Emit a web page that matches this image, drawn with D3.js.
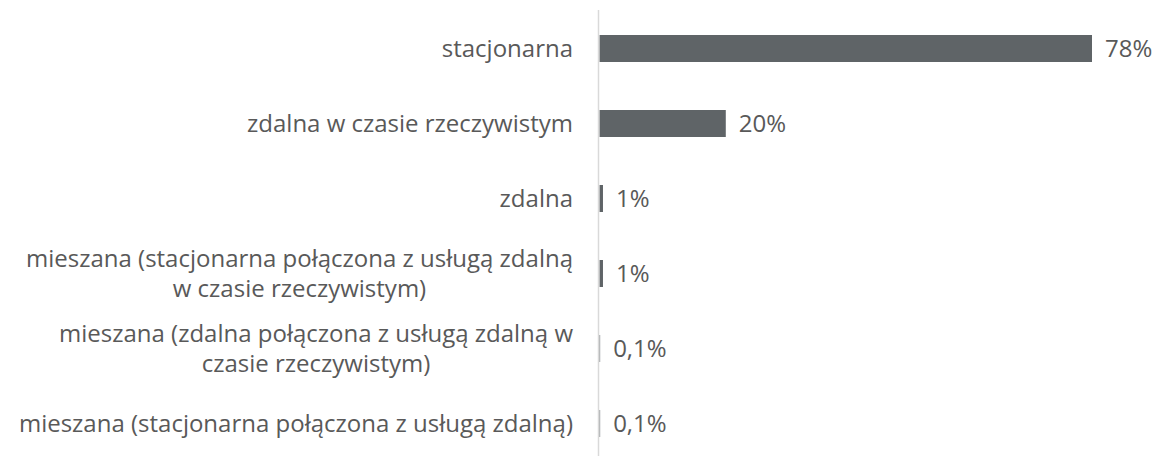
<!DOCTYPE html>
<html><head><meta charset="utf-8">
<script src="https://cdn.jsdelivr.net/npm/d3@7"></script>
<style>html,body{margin:0;padding:0;background:#fff;}svg{display:block;}</style>
</head><body>
<svg id="chart" width="1158" height="456"></svg>
<script>
const categories = [
  "stacjonarna",
  "zdalna w czasie rzeczywistym",
  "zdalna",
  "mieszana (stacjonarna połączona z usługą zdalną\nw czasie rzeczywistym)",
  "mieszana (zdalna połączona z usługą zdalną w\nczasie rzeczywistym)",
  "mieszana (stacjonarna połączona z usługą zdalną)"
];
const values = [78, 20, 0.55, 0.55, 0.1, 0.1];
const valueLabels = ["78%", "20%", "1%", "1%", "0,1%", "0,1%"];

const svg = d3.select("#chart");
const FONT = "'Open Sans', 'Noto Sans', sans-serif";
const FS = 24;
const textColor = "#595959";
const barColor = "#5f6467";

const x = d3.scaleLinear().domain([0, 78]).range([599.5, 1092]);
const y = d3.scaleBand().domain(categories).range([11, 461]).paddingInner(0.64).paddingOuter(0.32);

// bars
svg.selectAll("rect.bar").data(categories).join("rect")
  .attr("class", "bar")
  .attr("x", x(0))
  .attr("y", d => y(d))
  .attr("width", (d, i) => x(values[i]) - x(0))
  .attr("height", y.bandwidth())
  .attr("fill", barColor);

// axis line
svg.append("line")
  .attr("x1", 598.5).attr("x2", 598.5)
  .attr("y1", 10).attr("y2", 456)
  .attr("stroke", "#d9d9d9").attr("stroke-width", 1.5);

// value labels
svg.selectAll("text.val").data(categories).join("text")
  .attr("class", "val")
  .attr("x", (d, i) => x(values[i]) + 13)
  .attr("y", d => y(d) + y.bandwidth() / 2)
  .attr("dy", "0.35em")
  .attr("font-family", FONT).attr("font-size", FS)
  .attr("fill", textColor)
  .text((d, i) => valueLabels[i]);

// category labels
const labelRight = 573;
const lineH = 30;
categories.forEach(c => {
  const lines = c.split("\n");
  const cy = y(c) + y.bandwidth() / 2;
  const g = svg.append("g");
  const texts = lines.map((ln, k) => g.append("text")
    .attr("y", cy + (k - (lines.length - 1) / 2) * lineH)
    .attr("dy", "0.35em")
    .attr("font-family", FONT).attr("font-size", FS)
    .attr("fill", textColor)
    .text(ln));
  if (lines.length === 1) {
    texts[0].attr("x", labelRight).attr("text-anchor", "end");
  } else {
    const maxW = d3.max(texts, t => t.node().getComputedTextLength());
    texts.forEach(t => t.attr("x", labelRight - maxW / 2).attr("text-anchor", "middle"));
  }
});
</script>
</body></html>
